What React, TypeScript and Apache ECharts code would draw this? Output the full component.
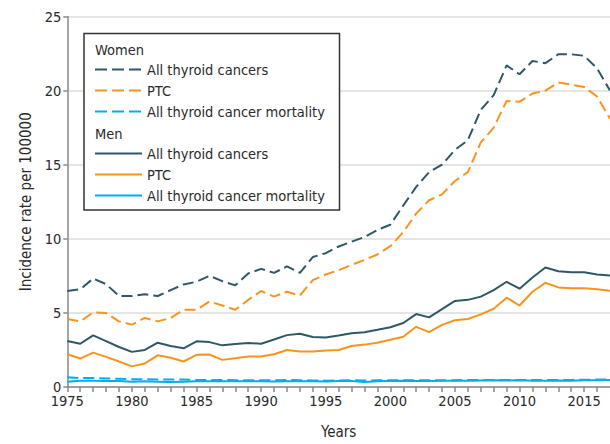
import React, { useEffect, useRef } from "react";
import * as echarts from "echarts";

const years = [
  1975, 1976, 1977, 1978, 1979, 1980, 1981, 1982, 1983, 1984, 1985, 1986, 1987, 1988,
  1989, 1990, 1991, 1992, 1993, 1994, 1995, 1996, 1997, 1998, 1999, 2000, 2001, 2002,
  2003, 2004, 2005, 2006, 2007, 2008, 2009, 2010, 2011, 2012, 2013, 2014, 2015, 2016, 2017,
];

const womenAll = [
  6.48, 6.59, 7.32, 6.94, 6.14, 6.14, 6.26, 6.14, 6.54, 6.92, 7.1, 7.5, 7.14, 6.86,
  7.66, 7.97, 7.7, 8.14, 7.7, 8.77, 9.03, 9.48, 9.8, 10.12, 10.6, 10.95, 12.25, 13.5,
  14.5, 15.0, 16.0, 16.65, 18.7, 19.7, 21.7, 21.1, 22.0, 21.85, 22.45, 22.45, 22.35, 21.5, 20.0,
];
const womenPTC = [
  4.59, 4.43, 5.03, 4.99, 4.43, 4.21, 4.66, 4.43, 4.66, 5.21, 5.21, 5.77, 5.5, 5.21,
  5.88, 6.48, 6.1, 6.43, 6.17, 7.21, 7.59, 7.88, 8.24, 8.57, 8.94, 9.5, 10.45, 11.7,
  12.6, 13.0, 13.9, 14.5, 16.5, 17.5, 19.3, 19.25, 19.8, 20.0, 20.55, 20.4, 20.25, 19.6, 18.1,
];
const womenMort = [
  0.65, 0.6, 0.6, 0.58, 0.55, 0.52, 0.52, 0.5, 0.5, 0.5, 0.48, 0.47, 0.47, 0.46,
  0.46, 0.45, 0.46, 0.47, 0.46, 0.44, 0.43, 0.44, 0.45, 0.44, 0.45, 0.46, 0.46, 0.45,
  0.45, 0.46, 0.46, 0.47, 0.47, 0.48, 0.48, 0.48, 0.47, 0.47, 0.48, 0.48, 0.49, 0.5, 0.5,
];
const menAll = [
  3.1, 2.92, 3.48, 3.1, 2.7, 2.37, 2.5, 2.99, 2.77, 2.61, 3.08, 3.03, 2.81, 2.9,
  2.97, 2.92, 3.21, 3.5, 3.59, 3.37, 3.34, 3.48, 3.63, 3.7, 3.86, 4.03, 4.32, 4.92,
  4.7, 5.26, 5.81, 5.88, 6.1, 6.54, 7.1, 6.63, 7.39, 8.06, 7.81, 7.74, 7.74, 7.59, 7.52,
];
const menPTC = [
  2.21, 1.92, 2.32, 2.03, 1.72, 1.39, 1.59, 2.14, 1.97, 1.72, 2.17, 2.19, 1.83, 1.94,
  2.06, 2.06, 2.21, 2.5, 2.39, 2.39, 2.46, 2.5, 2.77, 2.86, 2.99, 3.19, 3.39, 4.06,
  3.7, 4.19, 4.5, 4.59, 4.9, 5.28, 6.03, 5.5, 6.43, 7.03, 6.72, 6.66, 6.66, 6.59, 6.5,
];
const menMort = [
  0.35, 0.42, 0.42, 0.41, 0.4, 0.36, 0.38, 0.36, 0.33, 0.36, 0.38, 0.38, 0.38, 0.39,
  0.38, 0.39, 0.37, 0.38, 0.39, 0.38, 0.37, 0.4, 0.41, 0.34, 0.39, 0.41, 0.42, 0.4,
  0.41, 0.42, 0.43, 0.43, 0.44, 0.45, 0.44, 0.45, 0.43, 0.42, 0.44, 0.43, 0.45, 0.46, 0.47,
];

const seriesLabels = ["All thyroid cancers", "PTC", "All thyroid cancer mortality"];
const groupLabels = ["Women", "Men"];
const yTicks = [0, 5, 10, 15, 20, 25];

const SLATE = "#2f5866";
const ORANGE = "#f7941d";
const BLUE = "#00aeef";
const FONT = '"DejaVu Sans Condensed", "Liberation Sans Narrow", "Noto Sans", sans-serif';
const TEXT = "#2a2a2a";

export default function App() {
  const ref = useRef<HTMLDivElement>(null);
  useEffect(() => {
    if (!ref.current) return;
    const chart = echarts.init(ref.current, undefined, { renderer: "svg" });
    const pairs = (arr: number[]) => years.map((y, i) => [y, arr[i]]);
    const dash = [11, 5];
    const mk = (name: string, data: number[], color: string, dashed: boolean, z: number) => ({
      name,
      type: "line",
      data: pairs(data),
      showSymbol: false,
      symbol: "none",
      z,
      lineStyle: { color, width: 2, type: dashed ? dash : "solid" },
    });

    const colors = [SLATE, ORANGE, BLUE];
    const legendEls: any[] = [];
    legendEls.push({
      type: "rect",
      shape: { x: 84, y: 33.5, width: 255.5, height: 176.5 },
      style: { fill: "#fff", stroke: "#333", lineWidth: 1.5 },
      z: 100,
    });
    const rowsY = [
      [49.5, [69.5, 90.5, 111.5]],
      [133.5, [153.5, 174.5, 195.5]],
    ] as const;
    rowsY.forEach(([hy, ys], gi) => {
      legendEls.push({
        type: "text",
        x: 95,
        y: hy,
        style: {
          text: groupLabels[gi],
          font: `14.5px ${FONT}`,
          fill: TEXT,
          verticalAlign: "middle",
          align: "left",
        },
        z: 101,
      });
      ys.forEach((yy, si) => {
        legendEls.push({
          type: "line",
          shape: { x1: 95, y1: yy, x2: 142, y2: yy },
          style: {
            stroke: colors[si],
            lineWidth: 2,
            lineDash: gi === 0 ? [12, 5] : null,
          },
          z: 101,
        });
        legendEls.push({
          type: "text",
          x: 147,
          y: yy,
          style: {
            text: seriesLabels[si],
            font: `14.5px ${FONT}`,
            fill: TEXT,
            verticalAlign: "middle",
            align: "left",
          },
          z: 101,
        });
      });
    });

    chart.setOption({
      animation: false,
      backgroundColor: "#fff",
      textStyle: { fontFamily: FONT },
      grid: { left: 67.3, top: 16.5, width: 547.3, height: 375 },
      xAxis: {
        type: "value",
        min: 1975,
        max: 2017,
        interval: 1,
        name: "Years",
        nameLocation: "middle",
        nameGap: 37,
        nameTextStyle: { fontSize: 15, color: TEXT, fontFamily: FONT },
        axisLine: { show: true, onZero: false, lineStyle: { color: "#888", width: 1.5 } },
        axisTick: { show: true, length: 5, lineStyle: { color: "#888", width: 1.5 } },
        axisLabel: {
          fontSize: 14.5,
          lineHeight: 11,
          color: TEXT,
          fontFamily: FONT,
          margin: 8,
          showMaxLabel: false,
          formatter: (v: number) => (v % 5 === 0 ? String(v) : ""),
        },
        splitLine: { show: false },
      },
      yAxis: {
        type: "value",
        min: yTicks[0],
        max: yTicks[yTicks.length - 1],
        interval: 5,
        name: "Incidence rate per 100000",
        nameLocation: "middle",
        nameGap: 33,
        nameTextStyle: { fontSize: 15, color: TEXT, fontFamily: FONT },
        axisLine: { show: true, lineStyle: { color: "#888", width: 1.5 } },
        axisTick: { show: true, length: 4, lineStyle: { color: "#888", width: 1.5 } },
        axisLabel: { fontSize: 14.5, lineHeight: 11, color: TEXT, fontFamily: FONT, margin: 6 },
        splitLine: { show: true, lineStyle: { color: "#dcdcdc", width: 1.5 } },
      },
      series: [
        mk("Women mortality", womenMort, BLUE, true, 3),
        mk("Men mortality", menMort, BLUE, false, 3),
        mk("Men PTC", menPTC, ORANGE, false, 4),
        mk("Men all", menAll, SLATE, false, 4),
        mk("Women PTC", womenPTC, ORANGE, true, 5),
        mk("Women all", womenAll, SLATE, true, 5),
      ],
      graphic: legendEls,
    });
    return () => chart.dispose();
  }, []);
  return <div ref={ref} style={{ width: 610, height: 444, position: "absolute", left: 0, top: 0 }} />;
}
